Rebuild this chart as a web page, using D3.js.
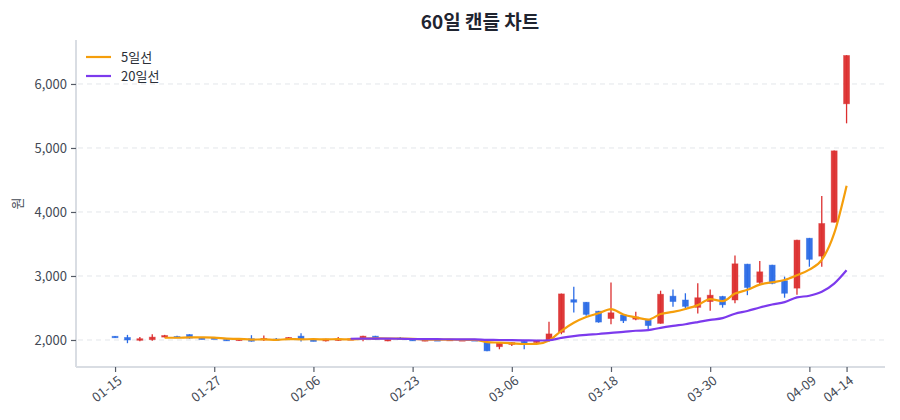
<!DOCTYPE html>
<html><head><meta charset="utf-8">
<script src="https://cdn.jsdelivr.net/npm/d3@7"></script>
<style>
html,body{margin:0;padding:0;background:#fff;}
svg{display:block;font-family:"Noto Sans CJK KR","Noto Sans",sans-serif;}
</style></head>
<body>
<svg id="chart" width="900" height="420"></svg>
<script>
const dates = ["01-15","01-16","01-19","01-20","01-21","01-22","01-23","01-26","01-27","01-28",
"01-29","01-30","02-02","02-03","02-04","02-05","02-06","02-09","02-10","02-11",
"02-12","02-13","02-19","02-20","02-23","02-24","02-25","02-26","02-27","03-03",
"03-04","03-05","03-06","03-09","03-10","03-11","03-12","03-13","03-16","03-17",
"03-18","03-19","03-20","03-23","03-24","03-25","03-26","03-27","03-30","03-31",
"04-01","04-02","04-03","04-06","04-07","04-08","04-09","04-10","04-13","04-14"];
const open  = [2058,2040,1995,2005,2045,2055,2085,2030,2032,2010,
1990,2020,2010,2015,2015,2060,2000,1985,1995,2010,
2020,2060,1985,2030,2010,1985,2005,1995,1995,2005,
1965,1895,1930,1980,1960,2000,2120,2630,2590,2450,
2335,2390,2325,2310,2260,2685,2625,2510,2600,2680,
2625,3185,2900,3170,2925,2810,3590,3310,3840,5690];
const high  = [2062,2080,2045,2090,2080,2065,2090,2035,2040,2015,
2030,2075,2070,2030,2045,2105,2005,2020,2045,2025,
2065,2065,2015,2045,2015,2010,2010,2015,2010,2010,
1968,1960,1970,1990,2000,2285,2725,2830,2595,2455,
2900,2400,2440,2315,2770,2790,2730,2885,2790,2690,
3320,3190,3235,3175,2990,3565,3595,4250,4960,6450];
const low   = [2035,1950,1980,1990,2040,2035,2020,2010,2025,1985,
1985,1975,1985,1990,2010,1975,1980,1975,1985,2000,
1980,2005,1980,2010,1990,1980,1995,1990,1990,1985,
1825,1855,1905,1855,1955,1975,2090,2430,2380,2270,
2245,2265,2310,2170,2255,2520,2495,2415,2455,2505,
2575,2700,2870,2870,2660,2705,3145,3145,3835,5385];
const close = [2040,2000,2020,2045,2070,2040,2030,2015,2030,1990,
2020,1980,2025,2000,2040,2010,1985,2015,2015,2020,
2060,2010,2010,2015,1995,2005,2000,2010,2005,1990,
1830,1955,1960,1950,1995,2095,2720,2590,2400,2280,
2425,2300,2360,2225,2715,2600,2525,2660,2700,2550,
3190,2820,3065,2885,2730,3560,3260,3820,4955,6445];
const yTicks = [2000,3000,4000,5000,6000];
const xTickIdx = [0,8,16,24,32,40,48,56,59];
const maSpecs = [{name:"5일선", n:5, color:"#f59e0b"},{name:"20일선", n:20, color:"#7c3aed"}];

const svg = d3.select("#chart");
const L=76, R=885, T=40, B=367;
const x = d3.scaleLinear().domain([-3.15, 62.1]).range([L, R]);
const y = d3.scaleLinear().domain([1578, 6687]).range([B, T]);
const up="#dc2f2f", down="#2b6ce6";
const ff = '"Noto Sans CJK KR","Noto Sans",sans-serif';

// title
svg.append("text").attr("x",480).attr("y",29).attr("text-anchor","middle")
  .attr("font-size",19).attr("font-weight",700).attr("fill","#1f2430").text("60일 캔들 차트");

// grid
svg.append("g").selectAll("line").data(yTicks).join("line")
  .attr("x1",L+2).attr("x2",R).attr("y1",d=>y(d)).attr("y2",d=>y(d))
  .attr("stroke","#e3e6ea").attr("stroke-dasharray","5,4").attr("stroke-width",1);

// axes
const yAxis = svg.append("g").attr("transform",`translate(${L},0)`)
  .call(d3.axisLeft(y).tickValues(yTicks).tickFormat(d3.format(",")).tickSize(5).tickPadding(4));
const xAxis = svg.append("g").attr("transform",`translate(0,${B})`)
  .call(d3.axisBottom(x).tickValues(xTickIdx).tickFormat(i=>dates[i]).tickSize(5).tickPadding(4));
[yAxis,xAxis].forEach(g=>{
  g.select(".domain").attr("stroke","#d9dde3").attr("stroke-width",2);
  g.selectAll(".tick line").attr("stroke","#555b66").attr("stroke-width",1.2);
  g.selectAll(".tick text").attr("fill","#444a55").attr("font-size",13).attr("font-family",ff);
});
yAxis.select(".domain").attr("d",`M0,${T}V${B}`);
xAxis.select(".domain").attr("d",`M${L},0H${R}`);
xAxis.selectAll(".tick text").attr("text-anchor","end")
  .attr("transform","translate(-3,2) rotate(-38)").attr("dy","0.6em").attr("dx","0");

svg.append("text").attr("transform",`translate(22,${(T+B)/2}) rotate(-90)`)
  .attr("text-anchor","middle").attr("font-size",13).attr("fill","#444a55").text("원");

// candles
const idx = d3.range(dates.length);
const cw = 6;
const g = svg.append("g");
g.selectAll("line.wick").data(idx).join("line").attr("class","wick")
  .attr("x1",i=>x(i)).attr("x2",i=>x(i)).attr("y1",i=>y(high[i])).attr("y2",i=>y(low[i]))
  .attr("stroke",i=>close[i]>=open[i]?up:down).attr("stroke-width",1.3);
g.selectAll("rect").data(idx).join("rect")
  .attr("x",i=>x(i)-cw/2).attr("width",cw)
  .attr("y",i=>y(Math.max(open[i],close[i])))
  .attr("height",i=>Math.max(1.5, Math.abs(y(open[i])-y(close[i]))))
  .attr("fill",i=>close[i]>=open[i]?up:down).attr("fill-opacity",0.95)
  .attr("stroke",i=>close[i]>=open[i]?up:down).attr("stroke-opacity",0.5).attr("stroke-width",0.8);

// moving averages of close
maSpecs.forEach(s=>{
  const pts = idx.filter(i=>i>=s.n-1).map(i=>[i, d3.mean(close.slice(i-s.n+1,i+1))]);
  svg.append("path").datum(pts)
    .attr("d", d3.line().x(p=>x(p[0])).y(p=>y(p[1])).curve(d3.curveMonotoneX))
    .attr("fill","none").attr("stroke",s.color).attr("stroke-width",2.2);
});

// legend
const lg = svg.append("g");
maSpecs.forEach((s,k)=>{
  const yy = 57 + k*19;
  lg.append("line").attr("x1",86).attr("x2",111).attr("y1",yy).attr("y2",yy)
    .attr("stroke",s.color).attr("stroke-width",2.2);
  lg.append("text").attr("x",121).attr("y",yy+4.5).attr("font-size",13)
    .attr("fill","#2a2f38").text(s.name);
});
</script>
</body></html>
